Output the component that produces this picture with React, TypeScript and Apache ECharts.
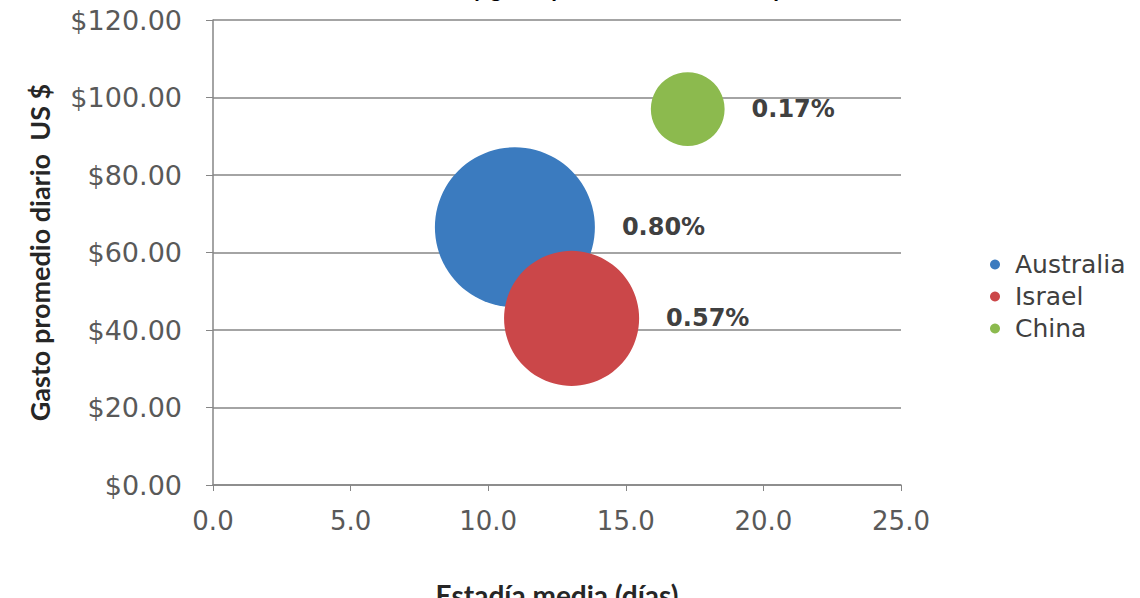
import React, { useEffect, useRef } from "react";
import * as echarts from "echarts";

const titleText = "Estadía media y gasto promedio diario en el país";
const xAxisTitle = "Estadía media (días)";
const yAxisTitle = "Gasto promedio diario  US $";
const countries = ["Australia", "Israel", "China"];
const stayDays = [10.97, 13.03, 17.25];
const dailySpend = [66.5, 43.0, 97.0];
const shareLabels = [0.8, 0.57, 0.17];
const colors = ["#3b7bbf", "#cb4749", "#8cba4e"];

const MAX_D = 160;
const maxShare = Math.max(...shareLabels);

export default function App() {
  const ref = useRef<HTMLDivElement>(null);
  useEffect(() => {
    if (!ref.current) return;
    const chart = echarts.init(ref.current, undefined, { renderer: "svg" });
    const series = countries.map((name, i) => ({
      name,
      type: "scatter",
      data: [[stayDays[i], dailySpend[i], shareLabels[i]]],
      symbol: "circle",
      symbolSize: (v: number[]) => MAX_D * Math.sqrt(v[2] / maxShare),
      itemStyle: { color: colors[i], opacity: 1 },
      label: {
        show: true,
        position: "right",
        distance: 27,
        formatter: (p: any) => p.value[2].toFixed(2) + "%",
        fontFamily: "DejaVu Sans",
        fontWeight: "bold",
        fontSize: 24,
        color: "#404040",
      },
      z: i === 1 ? 3 : 2,
    }));
    chart.setOption({
      animation: false,
      backgroundColor: "#ffffff",
      title: {
        text: titleText,
        left: "center",
        top: -29,
        textStyle: { fontFamily: "Lato", fontWeight: "bold", fontSize: 23, color: "#000" },
      },
      grid: { left: 213, right: 239, top: 20, bottom: 113, containLabel: false, outerBoundsMode: "none" },
      legend: {
        orient: "vertical",
        left: 985,
        top: 247,
        itemGap: 7,
        icon: "circle",
        itemWidth: 10,
        itemHeight: 10,
        textStyle: { fontFamily: "DejaVu Sans", fontSize: 25, color: "#404040", padding: [0, 0, 0, 10] },
        data: countries,
      },
      xAxis: {
        type: "value",
        min: 0,
        max: 25,
        interval: 5,
        name: xAxisTitle,
        nameLocation: "middle",
        nameGap: 96,
        nameTextStyle: { fontFamily: "Lato", fontWeight: "bold", fontSize: 28, color: "#262626" },
        axisLine: { show: true, lineStyle: { color: "#868686", width: 1.5 } },
        axisTick: { show: true, length: 6, lineStyle: { color: "#868686" } },
        axisLabel: {
          margin: 23,
          formatter: (v: number) => v.toFixed(1),
          fontFamily: "DejaVu Sans",
          fontSize: 26,
          color: "#595959",
        },
        splitLine: { show: false },
      },
      yAxis: {
        type: "value",
        min: 0,
        max: 120,
        interval: 20,
        name: yAxisTitle,
        nameLocation: "middle",
        nameGap: 160,
        nameRotate: 90,
        nameTextStyle: { fontFamily: "Lato", fontWeight: "bold", fontSize: 27, color: "#262626" },
        axisLine: { show: true, lineStyle: { color: "#868686", width: 1.5 } },
        axisTick: { show: true, length: 7, lineStyle: { color: "#868686" } },
        axisLabel: {
          margin: 31,
          formatter: (v: number) => "$" + v.toFixed(2),
          fontFamily: "DejaVu Sans",
          fontSize: 27,
          color: "#595959",
        },
        splitLine: { show: true, lineStyle: { color: "#868686", width: 1.5 } },
      },
      series,
    });
    return () => chart.dispose();
  }, []);
  return <div ref={ref} style={{ width: 1140, height: 598, position: "absolute", left: 0, top: 0 }} />;
}
